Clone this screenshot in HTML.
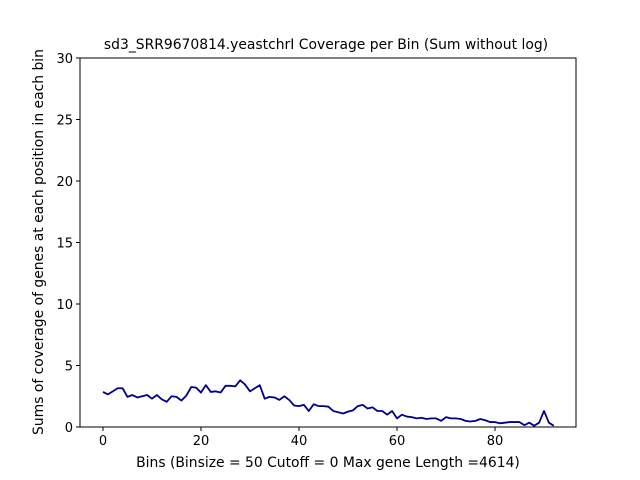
<!DOCTYPE html>
<html><head><meta charset="utf-8"><style>
html,body{margin:0;padding:0;background:#fff;}
svg{display:block;font-family:"DejaVu Sans","Liberation Sans",sans-serif;}
</style></head><body>
<svg id="chart" width="640" height="480">
<rect width="640" height="480" fill="#fff"/>
<text x="326" y="49" font-size="13.9" text-anchor="middle">sd3_SRR9670814.yeastchrI Coverage per Bin (Sum without log)</text>
<g id="xticks"></g>
<g id="yticks"></g>
<path id="line" fill="none" stroke="#00008b" stroke-width="1.8" stroke-linejoin="round"/>
<rect x="80" y="58" width="496" height="369" fill="none" stroke="#000" stroke-width="1"/>
<text x="328" y="467" font-size="13.9" text-anchor="middle">Bins  (Binsize = 50 Cutoff = 0 Max gene Length =4614)</text>
<text transform="translate(43,242) rotate(-90)" font-size="13.9" text-anchor="middle">Sums of coverage of genes at each position in each bin</text>
</svg>
<script>
const values = [2.85,2.65,2.9,3.15,3.15,2.45,2.6,2.4,2.5,2.6,2.3,2.6,2.25,2.05,2.5,2.45,2.15,2.55,3.25,3.2,2.8,3.4,2.85,2.9,2.8,3.35,3.35,3.3,3.8,3.45,2.9,3.15,3.4,2.3,2.45,2.4,2.2,2.5,2.2,1.75,1.7,1.8,1.3,1.85,1.7,1.7,1.65,1.3,1.2,1.1,1.25,1.35,1.7,1.8,1.5,1.6,1.3,1.3,1.0,1.3,0.7,1.0,0.85,0.8,0.7,0.75,0.65,0.7,0.7,0.5,0.8,0.7,0.7,0.65,0.5,0.45,0.5,0.65,0.55,0.4,0.4,0.3,0.35,0.4,0.4,0.4,0.15,0.35,0.1,0.35,1.3,0.35,0.1];
const xTicks = [0,20,40,60,80];
const yTicks = [0,5,10,15,20,25,30];
const NS="http://www.w3.org/2000/svg";
const X0=80,X1=576,Y0=427,Y1=58;
const xMin=-4.69,xMax=96.53,yMin=0,yMax=30;
const sx=v=>X0+(v-xMin)/(xMax-xMin)*(X1-X0);
const sy=v=>Y0-(v-yMin)/(yMax-yMin)*(Y0-Y1);
document.getElementById('line').setAttribute('d',values.map((v,i)=>(i?'L':'M')+sx(i).toFixed(2)+','+sy(v).toFixed(2)).join(''));
const xg=document.getElementById('xticks');
xTicks.forEach(t=>{
  const l=document.createElementNS(NS,'line');
  l.setAttribute('x1',sx(t));l.setAttribute('x2',sx(t));l.setAttribute('y1',Y0);l.setAttribute('y2',Y0+4);l.setAttribute('stroke','#000');
  
  
  xg.appendChild(l);
  const tx=document.createElementNS(NS,'text');
  tx.setAttribute('x',sx(t));tx.setAttribute('y',Y0+18);tx.setAttribute('font-size','13');tx.setAttribute('text-anchor','middle');
  tx.textContent=t;
  
  
  xg.appendChild(tx);
});
const yg=document.getElementById('yticks');
yTicks.forEach(t=>{
  const l=document.createElementNS(NS,'line');
  l.setAttribute('x1',X0-4);l.setAttribute('x2',X0);l.setAttribute('y1',sy(t));l.setAttribute('y2',sy(t));l.setAttribute('stroke','#000');
  
  
  yg.appendChild(l);
  const tx=document.createElementNS(NS,'text');
  tx.setAttribute('x',X0-7);tx.setAttribute('y',sy(t)+5);tx.setAttribute('font-size','13');tx.setAttribute('text-anchor','end');
  tx.textContent=t;
  
  
  yg.appendChild(tx);
});
</script>
</body></html>
